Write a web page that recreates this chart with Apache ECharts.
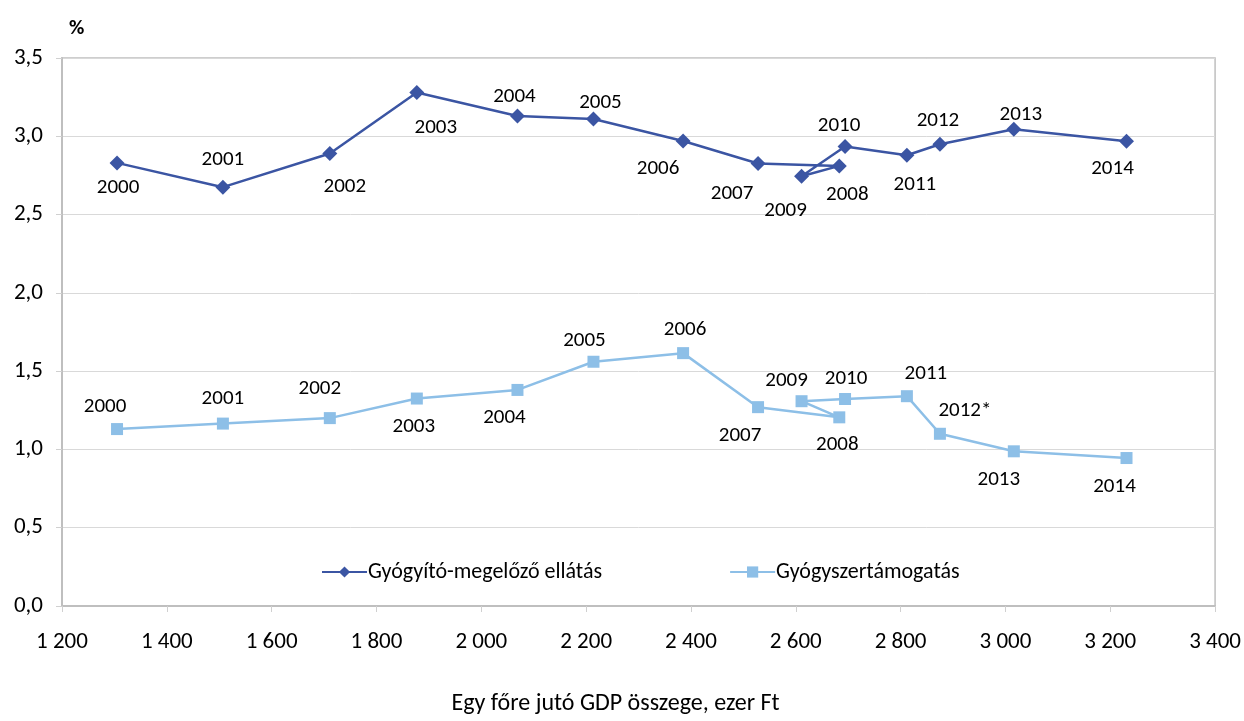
<!DOCTYPE html>
<html>
<head>
<meta charset="utf-8">
<script src="https://cdn.jsdelivr.net/npm/echarts@6/dist/echarts.min.js"></script>
<style>
  html, body { margin: 0; padding: 0; background: #fff; }
  #chart { width: 1244px; height: 721px; }
</style>
</head>
<body>
<div id="chart"></div>
<script>
// years, GDP per capita (thousand Ft) and shares (%)
const years = ["2000", "2001", "2002", "2003", "2004", "2005", "2006", "2007",
  "2008", "2009", "2010", "2011", "2012", "2013", "2014"];
const lightYears = ["2000", "2001", "2002", "2003", "2004", "2005", "2006", "2007",
  "2008", "2009", "2010", "2011", "2012*", "2013", "2014"];
const gdp = [1305, 1507, 1711, 1877, 2069, 2214, 2385, 2528, 2683, 2611, 2694, 2812, 2875, 3016, 3231];
const gyogyito = [2.83, 2.675, 2.89, 3.28, 3.13, 3.11, 2.97, 2.826, 2.811, 2.745, 2.935, 2.879, 2.949, 3.045, 2.968];
const gyogyszer = [1.13, 1.165, 1.2, 1.325, 1.38, 1.56, 1.615, 1.27, 1.205, 1.308, 1.322, 1.34, 1.1, 0.988, 0.945];

// label offsets (dx, dy) from the marker, per point
const darkOffsets = [[1, 25], [0, -27], [15, 33], [19, 35], [-3, -19], [7, -16], [-25, 28], [-26, 30],
  [8, 29], [-16, 35], [-6, -21], [8, 30], [-2, -24], [7, -14], [-14, 27]];
const lightOffsets = [[-12, -22], [0, -25], [-10, -29], [-3, 28], [-13, 28], [-9, -21], [2, -23], [-18, 29],
  [-2, 27], [-15, -20], [1, -20], [19, -22], [25, -23], [-15, 28], [-12, 29]];

const darkColor = "#3B55A3";
const lightColor = "#8DBFE7";
const font = "Carlito, Lato, 'Liberation Sans', sans-serif";

const buildData = (ys, labels, offsets) => {
  return gdp.map((x, i) => ({
    value: [x, ys[i]],
    name: labels[i],
    label: { offset: offsets[i] }
  }));
};

const fmtThousands = (v) => {
  const s = String(v);
  return s.length > 3 ? s.slice(0, s.length - 3) + " " + s.slice(-3) : s;
};

const chart = echarts.init(document.getElementById("chart"));

const option = {
  animation: false,
  backgroundColor: "#fff",
  textStyle: { fontFamily: font },
  title: {
    text: "%",
    left: 64,
    top: 13,
    textStyle: { fontFamily: font, fontSize: 21, fontWeight: "bold", color: "#000" }
  },
  grid: {
    left: 62,
    right: 27,
    top: 58,
    bottom: 113,
    show: true,
    borderColor: "#BFBFBF",
    borderWidth: 1.5
  },
  legend: {
    left: 316,
    top: 556,
    itemWidth: 45,
    itemHeight: 14,
    itemGap: 127,
    textStyle: { fontFamily: font, fontSize: 22, color: "#000", padding: [0, 0, 0, -4] },
    data: ["Gyógyító-megelőző ellátás", "Gyógyszertámogatás"]
  },
  xAxis: {
    type: "value",
    min: 1200,
    max: 3400,
    interval: 200,
    name: "Egy főre jutó GDP összege, ezer Ft",
    nameLocation: "middle",
    nameGap: 86,
    nameTextStyle: { fontFamily: font, fontSize: 24, color: "#000", padding: [0, 46, 0, 0] },
    axisLine: { show: true, lineStyle: { color: "#BFBFBF", width: 2 } },
    axisTick: { show: true, length: 6, lineStyle: { color: "#D0D0D0" } },
    axisLabel: { fontFamily: font, fontSize: 23, color: "#000", margin: 25, formatter: fmtThousands },
    splitLine: { show: false }
  },
  yAxis: {
    type: "value",
    min: 0,
    max: 3.5,
    interval: 0.5,
    axisLine: { show: true, lineStyle: { color: "#BFBFBF", width: 2 } },
    axisTick: { show: true, length: 6, lineStyle: { color: "#D0D0D0" } },
    axisLabel: {
      fontFamily: font, fontSize: 23, color: "#000", margin: 19,
      formatter: (v) => v.toFixed(1).replace(".", ",")
    },
    splitLine: { show: true, lineStyle: { color: "#D9D9D9", width: 1 } }
  },
  series: [
    {
      name: "Gyógyító-megelőző ellátás",
      type: "line",
      data: buildData(gyogyito, years, darkOffsets),
      symbol: "diamond",
      symbolSize: 15,
      lineStyle: { color: darkColor, width: 2.5 },
      itemStyle: { color: darkColor },
      label: {
        show: true,
        position: "inside",
        formatter: (p) => p.name,
        fontFamily: font,
        fontSize: 21,
        color: "#000"
      }
    },
    {
      name: "Gyógyszertámogatás",
      type: "line",
      data: buildData(gyogyszer, lightYears, lightOffsets),
      symbol: "rect",
      symbolSize: 12,
      lineStyle: { color: lightColor, width: 2.5 },
      itemStyle: { color: lightColor },
      label: {
        show: true,
        position: "inside",
        formatter: (p) => p.name,
        fontFamily: font,
        fontSize: 21,
        color: "#000"
      }
    }
  ]
};

chart.setOption(option);
</script>
</body>
</html>
